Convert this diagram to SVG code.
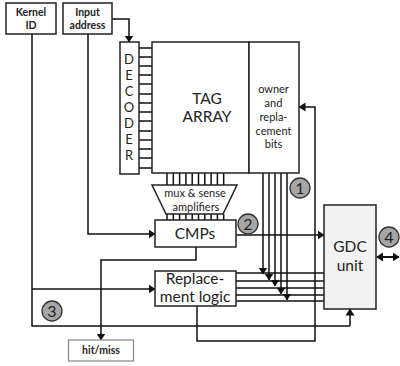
<svg xmlns="http://www.w3.org/2000/svg" width="400" height="366" viewBox="0 0 400 366">
<defs>
<marker id="a" markerUnits="userSpaceOnUse" markerWidth="8" markerHeight="10" refX="6.5" refY="5" orient="auto"><path d="M0 0.5L7 5L0 9.5Z" fill="#111"/></marker>
<marker id="b" markerUnits="userSpaceOnUse" markerWidth="8" markerHeight="10" refX="1" refY="5" orient="auto"><path d="M7 0.5L0 5L7 9.5Z" fill="#111"/></marker>
</defs>
<style>
text{font-family:Lato,"Noto Sans",sans-serif;fill:#222;text-anchor:middle}
.box{fill:#fff;stroke:#222;stroke-width:1.5}
.l{fill:none;stroke:#111;stroke-width:1.5}
.la{fill:none;stroke:#111;stroke-width:1.5;marker-end:url(#a)}
.s{font-size:10.5px;font-weight:700}
.c{fill:#a6a6a6;stroke:#333;stroke-width:1.3}
.n{font-size:16px}
.m{font-size:11px}
.d{font-size:13px}
.b{font-size:15.5px}
</style>
<g id="connectors">
<path class="l" d="M32 34V326H350"/>
<path class="la" d="M112 19H129V42"/>
<path class="la" d="M32 289H155"/>
<path class="la" d="M88 34V234H155"/>
<path class="la" d="M196 247V260H101V340"/>
<path class="la" d="M236 235H324"/>
<path class="la" d="M197 306V341H315V107H299"/>
<path class="la" d="M350 326V309"/>
<path class="l" d="M139 48H152M139 57H152M139 66H152M139 75H152M139 84H152M139 94H152M139 103H152M139 112H152M139 121H152M139 131H152M139 140H152M139 149H152M139 158H152M139 168H152"/>
<path class="l" d="M167 173V185M173.300 173V185M179.600 173V185M185.900 173V185M192.200 173V185M198.500 173V185M204.800 173V185M211.100 173V185M217.400 173V185M223.700 173V185"/>
<path class="l" d="M167 214V220M173.300 214V220M179.600 214V220M185.900 214V220M192.200 214V220M198.500 214V220M204.800 214V220M211.100 214V220M217.400 214V220M223.700 214V220"/>
<path class="la" d="M263 173V274"/><path class="la" d="M269 173V280"/><path class="la" d="M275 173V286"/><path class="la" d="M281 173V294"/><path class="la" d="M287 173V300"/>
<path class="l" d="M236 273H324M236 281H324M236 288H324M236 295H324M236 301H324"/>
<path d="M377 257H399" fill="none" stroke="#111" stroke-width="2" marker-start="url(#b)" marker-end="url(#a)"/>
</g>
<g id="kernel"><rect class="box" x="6" y="3" width="50" height="31"/><text class="s" x="31" y="16">Kernel</text><text class="s" x="31" y="29">ID</text></g>
<g id="input"><rect class="box" x="63" y="3" width="49" height="31"/><text class="s" x="87.500" y="16">Input</text><text class="s" x="87.500" y="29">address</text></g>
<g id="decoder"><rect class="box" x="120" y="42" width="19" height="132"/>
<text class="d" x="129" y="64">D</text><text class="d" x="129" y="80">E</text><text class="d" x="129" y="96">C</text><text class="d" x="129" y="112">O</text><text class="d" x="129" y="128">D</text><text class="d" x="129" y="144">E</text><text class="d" x="129" y="160">R</text></g>
<g id="tag"><rect class="box" x="152" y="42" width="97" height="131"/><text class="b" x="207" y="104">TAG</text><text class="b" x="207" y="122">ARRAY</text></g>
<g id="owner"><rect class="box" x="249" y="42" width="50" height="131"/>
<text class="m" x="273.500" y="93">owner</text><text class="m" x="273.500" y="107">and</text><text class="m" x="273.500" y="121">repla-</text><text class="m" x="273.500" y="135">cement</text><text class="m" x="273.500" y="148">bits</text></g>
<g id="mux"><path class="box" d="M152 185H237L223 214H166Z"/><text class="m" x="195" y="197">mux &amp; sense</text><text class="m" x="196" y="211">amplifiers</text></g>
<g id="cmps"><rect class="box" x="155" y="220" width="81" height="27"/><text class="b" x="195" y="239">CMPs</text></g>
<g id="repl"><rect class="box" x="155" y="271" width="81" height="35"/><text class="b" x="195" y="284">Replace-</text><text class="b" x="195" y="302">ment logic</text></g>
<g id="gdc"><rect x="324" y="205" width="52" height="104" fill="#f2f2f2" stroke="#222" stroke-width="1.5"/><text class="b" x="350" y="252">GDC</text><text class="b" x="350" y="271">unit</text></g>
<g id="hitmiss"><rect x="68.500" y="340" width="65" height="21" fill="#fff" stroke="#888" stroke-width="1.2"/><text class="s" x="101" y="354">hit/miss</text></g>
<g id="n1"><circle class="c" cx="300" cy="188" r="10"/><text class="n" x="300" y="193.500">1</text></g>
<g id="n2"><circle class="c" cx="248" cy="224" r="10"/><text class="n" x="248" y="229.500">2</text></g>
<g id="n3"><circle class="c" cx="52" cy="311" r="10"/><text class="n" x="52" y="316.500">3</text></g>
<g id="n4"><circle class="c" cx="389" cy="237" r="10"/><text class="n" x="389" y="242.500">4</text></g>
</svg>
